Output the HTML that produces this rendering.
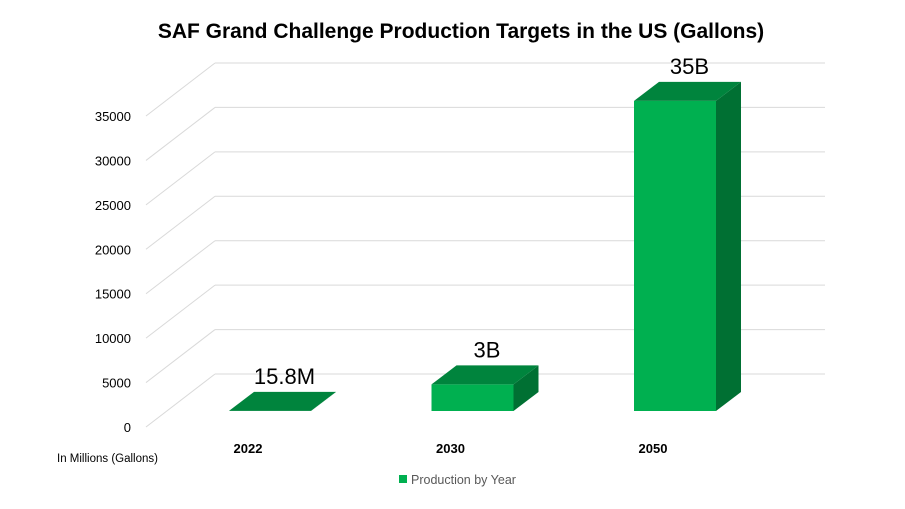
<!DOCTYPE html>
<html><head><meta charset="utf-8"><style>
body{margin:0;background:#fff;font-family:"Liberation Sans",sans-serif}
svg text{font-family:"Liberation Sans",sans-serif}
</style></head><body>
<svg id="c" width="905" height="504" xmlns="http://www.w3.org/2000/svg">
<text x="461" y="38" text-anchor="middle" font-size="21" font-weight="bold" fill="#000">SAF Grand Challenge Production Targets in the US (Gallons)</text>
<g id="grid"></g>
<g id="yticks"></g>
<g id="bars"></g>
<text x="57" y="462" font-size="11.5" fill="#000">In Millions (Gallons)</text>
<g><rect x="399" y="475" width="8" height="8" fill="#00b050"/><text x="411" y="484" font-size="12.5" fill="#595959">Production by Year</text></g>
</svg>
<script>
const categories=["2022","2030","2050"];
const values=[15.8,3000,35000];
const valueLabels=["15.8M","3B","35B"];
const yTicks=[0,5000,10000,15000,20000,25000,30000,35000];
const NS="http://www.w3.org/2000/svg";
function mk(t,a,p){const e=document.createElementNS(NS,t);for(const k in a)e.setAttribute(k,a[k]);p.appendChild(e);return e;}
const frontY=v=>427-v*311/35000;
const barY=v=>411-v*0.00886;
const g=document.getElementById('grid'),yt=document.getElementById('yticks'),b=document.getElementById('bars');
yTicks.forEach((v,i)=>{
 const fy=frontY(v),by=fy-53;
 const d=mk('line',{x1:146,y1:fy,x2:215,y2:by,stroke:'#d9d9d9','stroke-width':1},g);
 
 
 const h=mk('line',{x1:215,y1:by,x2:825,y2:by,stroke:'#d9d9d9','stroke-width':1},g);
 
 
 const t=mk('text',{x:131,y:fy+5,'text-anchor':'end','font-size':13,fill:'#000'},yt);
 t.textContent=v;
 
 
});
const W=82,DX=25,DY=-19;
categories.forEach((c,i)=>{
 const x=229+i*202.5,y0=411,y1=barY(values[i]);
 const grp=mk('g',{},b);
 
 
 const s=mk('polygon',{points:`${x+W},${y0} ${x+W+DX},${y0+DY} ${x+W+DX},${y1+DY} ${x+W},${y1}`,fill:'#007033'},grp);
 
 
 const f=mk('rect',{x:x,y:y1,width:W,height:Math.max(0,y0-y1),fill:'#00b050'},grp);
 
 
 const tp=mk('polygon',{points:`${x},${y1} ${x+DX},${y1+DY} ${x+W+DX},${y1+DY} ${x+W},${y1}`,fill:'#00843d'},grp);
 
 
 const l=mk('text',{x:x+W/2+DX/2+2,y:y1+DY-8,'text-anchor':'middle','font-size':22,fill:'#000'},grp);
 l.textContent=valueLabels[i];
 
 
 const cl=mk('text',{x:x+19,y:453,'text-anchor':'middle','font-size':13,'font-weight':'bold',fill:'#000'},b);
 cl.textContent=c;
 
 
});
</script>
</body></html>
